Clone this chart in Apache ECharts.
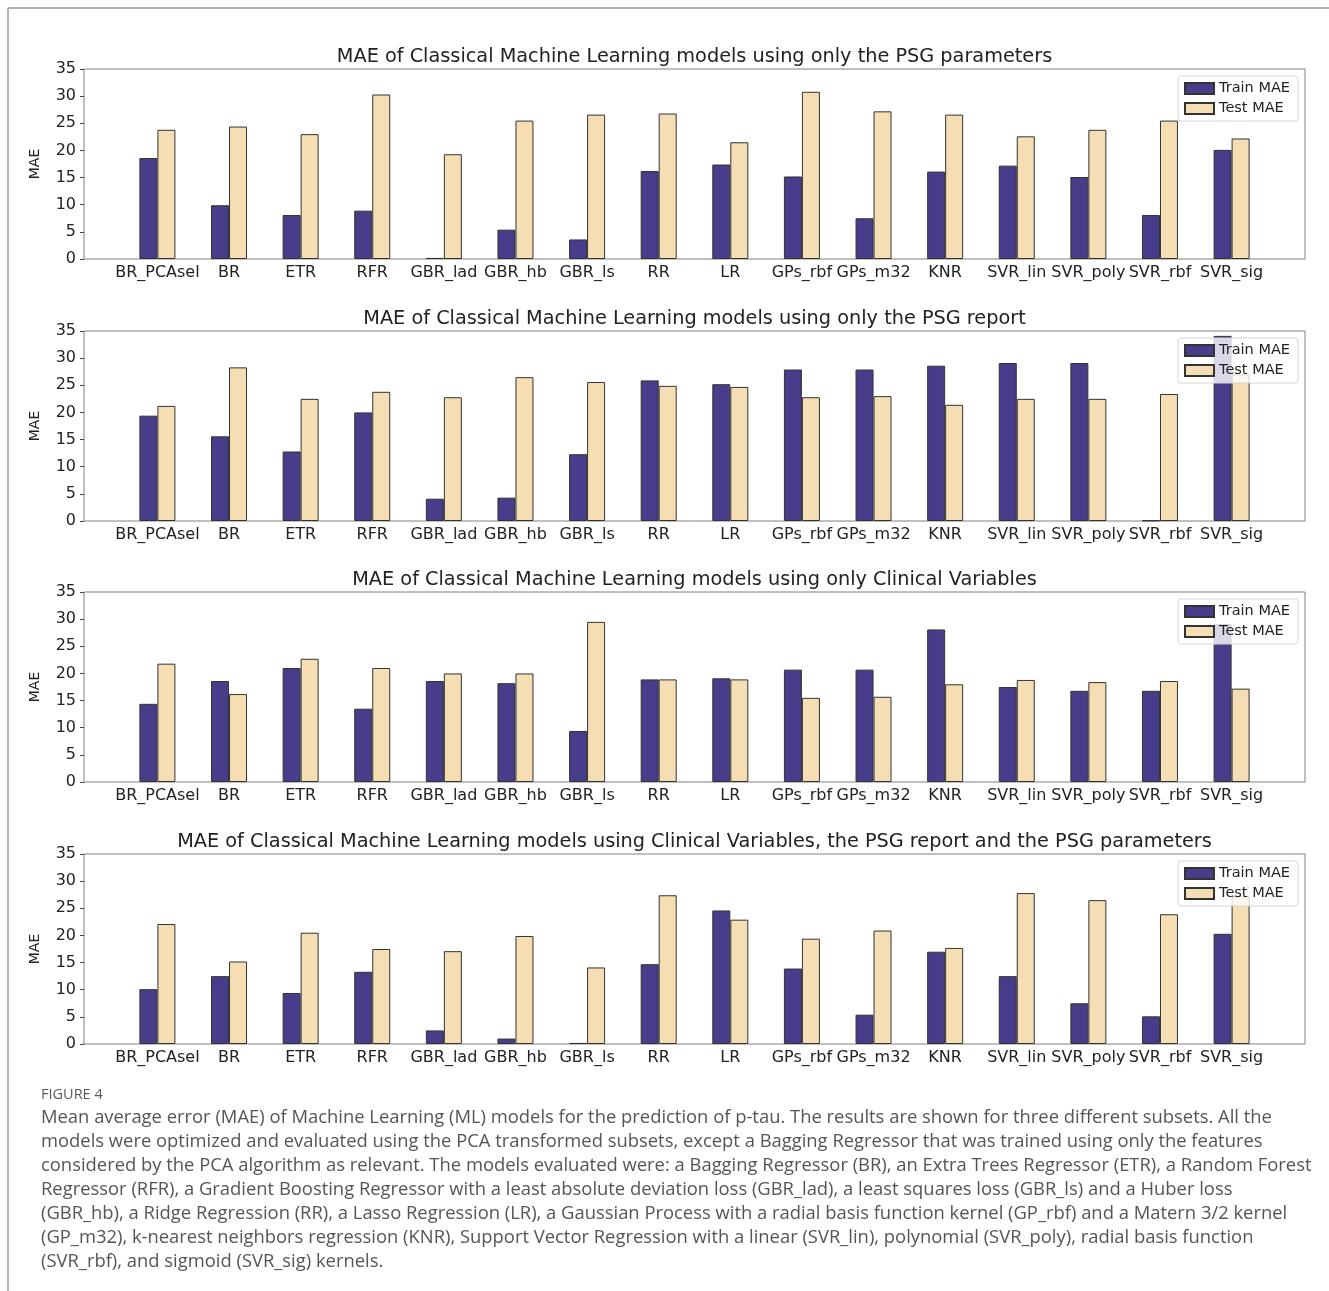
<!DOCTYPE html>
<html>
<head>
<meta charset="utf-8">
<title>MAE of classical ML models</title>
<script src="https://cdn.jsdelivr.net/npm/echarts@6/dist/echarts.min.js"></script>
<style>
  html, body { margin: 0; padding: 0; background: #ffffff; }
  #chart { width: 1329px; height: 1291px; }
</style>
</head>
<body>
<div id="chart"></div>
<script>
// Model names along the x axis
const models = ['BR_PCAsel', 'BR', 'ETR', 'RFR', 'GBR_lad', 'GBR_hb', 'GBR_ls', 'RR',
  'LR', 'GPs_rbf', 'GPs_m32', 'KNR', 'SVR_lin', 'SVR_poly', 'SVR_rbf', 'SVR_sig'];

// Panel 1: only the PSG parameters
const trainPsgParams = [18.6, 9.9, 8.1, 8.9, 0.2, 5.4, 3.6, 16.2, 17.4, 15.2, 7.5, 16.1, 17.2, 15.1, 8.1, 20.1];
const testPsgParams  = [23.8, 24.4, 23.0, 30.3, 19.3, 25.5, 26.6, 26.8, 21.5, 30.8, 27.2, 26.6, 22.6, 23.8, 25.5, 22.2];

// Panel 2: only the PSG report
const trainPsgReport = [19.4, 15.6, 12.8, 20.0, 4.1, 4.3, 12.3, 25.9, 25.2, 27.9, 27.9, 28.6, 29.1, 29.1, 0.1, 34.1];
const testPsgReport  = [21.2, 28.3, 22.5, 23.8, 22.8, 26.5, 25.6, 24.9, 24.7, 22.8, 23.0, 21.4, 22.5, 22.5, 23.4, 27.0];

// Panel 3: only clinical variables
const trainClinical = [14.4, 18.6, 21.0, 13.5, 18.6, 18.2, 9.4, 18.9, 19.1, 20.7, 20.7, 28.1, 17.5, 16.8, 16.8, 29.1];
const testClinical  = [21.8, 16.2, 22.7, 21.0, 20.0, 20.0, 29.5, 18.9, 18.9, 15.5, 15.7, 18.0, 18.8, 18.4, 18.6, 17.2];

// Panel 4: clinical variables, PSG report and PSG parameters
const trainAll = [10.1, 12.5, 9.4, 13.3, 2.5, 1.0, 0.2, 14.7, 24.6, 13.9, 5.4, 17.0, 12.5, 7.5, 5.1, 20.3];
const testAll  = [22.1, 15.2, 20.5, 17.5, 17.1, 19.9, 14.1, 27.4, 22.9, 19.4, 20.9, 17.7, 27.8, 26.5, 23.9, 27.2];

const yTicks = [0, 5, 10, 15, 20, 25, 30, 35];

const panelTitles = [
  'MAE of Classical Machine Learning models using only the PSG parameters',
  'MAE of Classical Machine Learning models using only the PSG report',
  'MAE of Classical Machine Learning models using only Clinical Variables',
  'MAE of Classical Machine Learning models using Clinical Variables, the PSG report and the PSG parameters'
];
const panelData = [
  [trainPsgParams, testPsgParams],
  [trainPsgReport, testPsgReport],
  [trainClinical, testClinical],
  [trainAll, testAll]
];

const captionHead = 'FIGURE 4';
const captionLines = [
  'Mean average error (MAE) of Machine Learning (ML) models for the prediction of p-tau. The results are shown for three different subsets. All the',
  'models were optimized and evaluated using the PCA transformed subsets, except a Bagging Regressor that was trained using only the features',
  'considered by the PCA algorithm as relevant. The models evaluated were: a Bagging Regressor (BR), an Extra Trees Regressor (ETR), a Random Forest',
  'Regressor (RFR), a Gradient Boosting Regressor with a least absolute deviation loss (GBR_lad), a least squares loss (GBR_ls) and a Huber loss',
  '(GBR_hb), a Ridge Regression (RR), a Lasso Regression (LR), a Gaussian Process with a radial basis function kernel (GP_rbf) and a Matern 3/2 kernel',
  '(GP_m32), k-nearest neighbors regression (KNR), Support Vector Regression with a linear (SVR_lin), polynomial (SVR_poly), radial basis function',
  '(SVR_rbf), and sigmoid (SVR_sig) kernels.'
];

// ---- layout ----
const plotLeft = 84, plotRight = 1305, plotHeight = 190;
const plotTops = [69, 331, 592, 854];
const TRAIN_COLOR = '#483D8B', TEST_COLOR = '#F5DEB3', EDGE = '#333333';
const FONT = '"DejaVu Sans", sans-serif';
const CAPTION_FONT = '"Open Sans", sans-serif';
const tickPositions = models.map((_, i) => i);

const grids = [], xAxes = [], yAxes = [], series = [], legends = [], graphics = [];

plotTops.forEach((top, p) => {
  grids.push({
    left: plotLeft, top: top, width: plotRight - plotLeft, height: plotHeight,
    show: true, borderColor: '#808080', borderWidth: 1, backgroundColor: 'transparent'
  });
  xAxes.push({
    type: 'value', gridIndex: p, min: -1.025, max: 16.025,
    axisLine: { show: false, onZero: false },
    splitLine: { show: false },
    axisTick: { show: false },
    axisLabel: {
      customValues: tickPositions, margin: 6,
      formatter: v => models[Math.round(v)] || '',
      color: '#222', fontSize: 16, fontFamily: FONT
    }
  });
  yAxes.push({
    type: 'value', gridIndex: p, min: 0, max: 35, interval: 5,
    name: 'MAE', nameLocation: 'middle', nameGap: 42,
    nameTextStyle: { color: '#222', fontSize: 14, fontFamily: FONT },
    axisLine: { show: false, onZero: false },
    splitLine: { show: false },
    axisTick: { show: true, length: 4, lineStyle: { color: '#444' } },
    axisLabel: { color: '#222', fontSize: 16, fontFamily: FONT, margin: 8,
      formatter: v => (yTicks.indexOf(v) >= 0 ? String(v) : '') }
  });
  const [train, test] = panelData[p];
  series.push({
    name: 'Train MAE', type: 'bar', xAxisIndex: p, yAxisIndex: p,
    barWidth: 18, barGap: '0%',
    itemStyle: { color: TRAIN_COLOR, borderColor: EDGE, borderWidth: 1 },
    data: train.map((v, i) => [i, v])
  });
  series.push({
    name: 'Test MAE', type: 'bar', xAxisIndex: p, yAxisIndex: p,
    barWidth: 18, barGap: '0%',
    itemStyle: { color: TEST_COLOR, borderColor: EDGE, borderWidth: 1 },
    data: test.map((v, i) => [i, v])
  });
  legends.push({
    orient: 'vertical', left: 1178, top: top + 7,
    data: ['Train MAE', 'Test MAE'],
    icon: 'rect', itemWidth: 29, itemHeight: 11, itemGap: 5,
    padding: [5, 8, 5, 6],
    backgroundColor: 'rgba(255,255,255,0.8)', borderColor: '#d6d6d6', borderWidth: 1, borderRadius: 3,
    textStyle: { color: '#222', fontSize: 14.5, fontFamily: FONT },
    selectedMode: false
  });
  graphics.push({
    type: 'text', x: (plotLeft + plotRight) / 2, y: top - 12,
    style: { text: panelTitles[p], textAlign: 'center', textVerticalAlign: 'middle',
      fill: '#222', font: '19.3px ' + FONT }
  });
});

// page frame lines
graphics.push({ type: 'line', shape: { x1: 8, y1: 8, x2: 1329, y2: 8 }, style: { stroke: '#9a9a9a', lineWidth: 1.5 } });
graphics.push({ type: 'line', shape: { x1: 8, y1: 8, x2: 8, y2: 1291 }, style: { stroke: '#9a9a9a', lineWidth: 1.5 } });

// caption
graphics.push({
  type: 'text', x: 41, y: 1095,
  style: { text: captionHead, textVerticalAlign: 'middle', fill: '#5a5a5a', font: '14.5px ' + CAPTION_FONT }
});
captionLines.forEach((line, k) => {
  graphics.push({
    type: 'text', x: 41, y: 1118 + 24 * k,
    style: { text: line, textVerticalAlign: 'middle', fill: '#555555', font: '18.4px ' + CAPTION_FONT }
  });
});

const chart = echarts.init(document.getElementById('chart'), null, { renderer: 'canvas' });
chart.setOption({
  animation: false,
  backgroundColor: '#ffffff',
  grid: grids,
  xAxis: xAxes,
  yAxis: yAxes,
  legend: legends,
  series: series,
  graphic: graphics
});
</script>
</body>
</html>
